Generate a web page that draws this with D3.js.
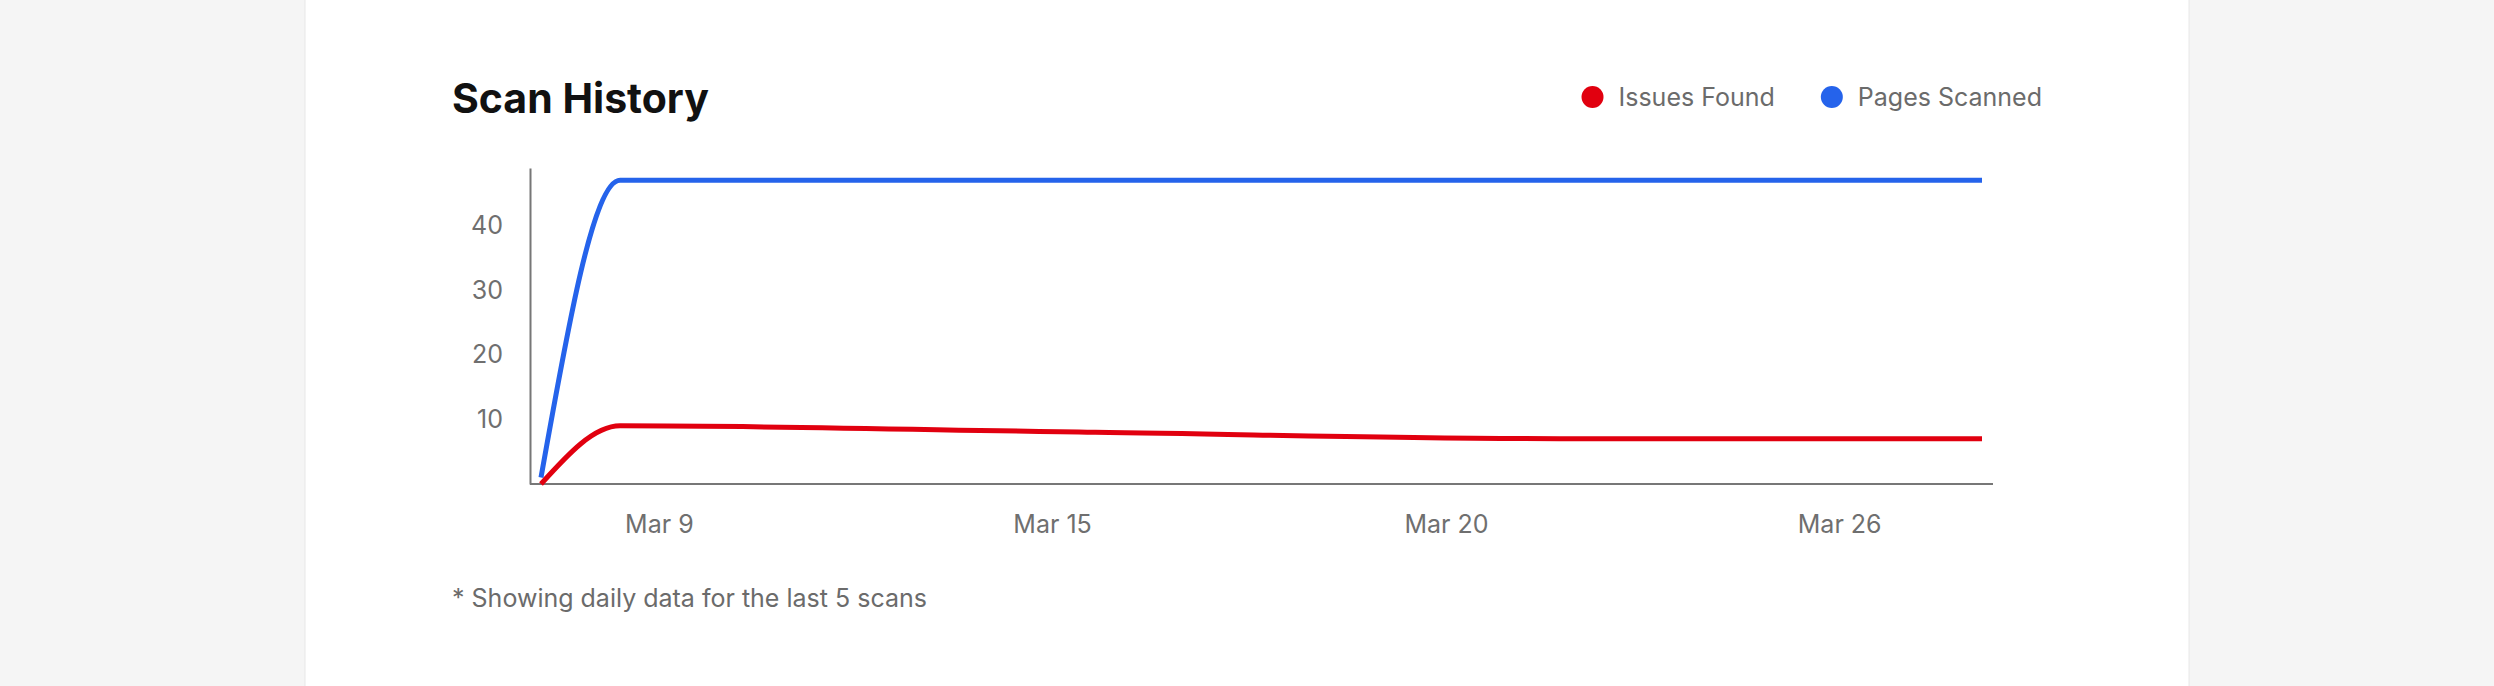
<!DOCTYPE html>
<html>
<head>
<meta charset="utf-8">
<script src="https://cdn.jsdelivr.net/npm/d3@7"></script>
<style>
    body { margin: 0; background: #f5f5f5; font-family: Inter, "Noto Sans", sans-serif; }
</style>
</head>
<body>
<div class="canvas"></div>
<script>
// scan data
const scanTimes = ["2025-03-07T16:30", "2025-03-08T20:00", "2025-03-15T17:15", "2025-03-22T14:30", "2025-03-28T13:40"]
const issuesFound = [0, 9, 8, 7, 7]
const pagesScanned = [1, 47, 47, 47, 47]
const tickTimes = ["2025-03-09T09:30", "2025-03-15T02:15", "2025-03-20T19:15", "2025-03-26T12:00"]
const yTicks = [10, 20, 30, 40]
const seriesNames = ["Issues Found", "Pages Scanned"]
const seriesColors = ["#e1000f", "#2563eb"]

const width = 2494
const height = 686

const plot = { left: 530, right: 1993, top: 168, bottom: 484, inset: 11 }

const svg = d3.select(".canvas").append("svg")
    .attr("width", width)
    .attr("height", height)
    .style("display", "block")

// card
svg.append("rect")
    .attr("x", 305)
    .attr("y", -2)
    .attr("width", 1884)
    .attr("height", height + 4)
    .attr("fill", "#fff")
    .attr("stroke", "#e8e8e8")

svg.append("text")
    .attr("x", 452)
    .attr("y", 113)
    .attr("font-size", 41)
    .attr("font-weight", 700)
    .attr("fill", "#111")
    .text("Scan History")

const parse = d3.timeParse("%Y-%m-%dT%H:%M")
const data = scanTimes.map((t, i) => ({
    date: parse(t),
    issues: issuesFound[i],
    pages: pagesScanned[i]
}))

const x = d3.scaleTime()
    .domain(d3.extent(data, d => d.date))
    .range([plot.left + plot.inset, plot.right - plot.inset])

const y = d3.scaleLinear()
    .domain([0, d3.max(data, d => d.pages) * 1.04])
    .range([plot.bottom, plot.top])

// axes
const xAxis = d3.axisBottom(x)
    .tickValues(tickTimes.map(parse))
    .tickFormat(d3.timeFormat("%b %-d"))
    .tickSize(0)
    .tickPadding(31)
const yAxis = d3.axisLeft(y)
    .tickValues(yTicks)
    .tickSize(0)
    .tickPadding(27)

const xAxisGroup = svg.append("g")
    .attr("transform", `translate(0, ${plot.bottom})`)
    .call(xAxis)
const yAxisGroup = svg.append("g")
    .attr("transform", `translate(${plot.left}, 0)`)
    .call(yAxis)

xAxisGroup.select(".domain").attr("d", `M${plot.left},0H${plot.right}`)

svg.selectAll(".domain")
    .attr("stroke", "#777")
    .attr("stroke-width", 2)
svg.selectAll(".tick text")
    .attr("font-family", "Inter, sans-serif")
    .attr("font-size", 25)
    .attr("fill", "#6f6f6f")

// lines
const line = key => d3.line()
    .x(d => x(d.date))
    .y(d => y(d[key]))
    .curve(d3.curveMonotoneX)

svg.append("path")
    .datum(data)
    .attr("fill", "none")
    .attr("stroke", seriesColors[1])
    .attr("stroke-width", 5)
    .attr("d", line("pages"))

svg.append("path")
    .datum(data)
    .attr("fill", "none")
    .attr("stroke", seriesColors[0])
    .attr("stroke-width", 5)
    .attr("d", line("issues"))

// legend, right aligned
const legend = svg.append("g")
    .attr("transform", "translate(0, 97)")
const items = legend.selectAll("g")
    .data(seriesNames)
    .enter()
    .append("g")
items.append("circle")
    .attr("r", 11)
    .attr("fill", (d, i) => seriesColors[i])
items.append("text")
    .attr("x", 26)
    .attr("dy", "0.35em")
    .attr("font-size", 25)
    .attr("fill", "#6b6b6b")
    .text(d => d)

let right = 2042
const nodes = items.nodes().reverse()
nodes.forEach(node => {
    const len = d3.select(node).select("text").node().getComputedTextLength()
    const left = right - len - 26
    d3.select(node).attr("transform", `translate(${left}, 0)`)
    right = left - 11 - 46
})

svg.append("text")
    .attr("x", 452)
    .attr("y", 607)
    .attr("font-size", 25)
    .attr("fill", "#6b6b6b")
    .text("* Showing daily data for the last 5 scans")
</script>
</body>
</html>
